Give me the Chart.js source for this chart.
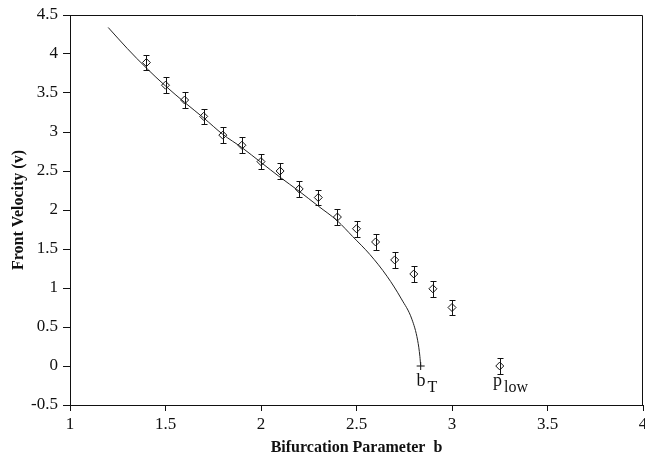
<!DOCTYPE html>
<html>
<head>
<meta charset="utf-8">
<script src="https://cdn.jsdelivr.net/npm/chart.js@4.4.1/dist/chart.umd.min.js"></script>
<style>
  html, body { margin: 0; padding: 0; background: #fff; }
</style>
</head>
<body>
<canvas id="myChart" width="645" height="457"></canvas>
<script>
// measured front velocities with error bars
const bValues = [1.4, 1.5, 1.6, 1.7, 1.8, 1.9, 2.0, 2.1, 2.2, 2.3, 2.4, 2.5, 2.6, 2.7, 2.8, 2.9, 3.0, 3.25];
const vValues = [3.89, 3.6, 3.41, 3.2, 2.96, 2.83, 2.62, 2.5, 2.27, 2.16, 1.91, 1.76, 1.59, 1.36, 1.18, 0.99, 0.75, 0.0];
const vErrors = [0.1, 0.1, 0.1, 0.1, 0.1, 0.1, 0.1, 0.1, 0.1, 0.1, 0.1, 0.1, 0.1, 0.1, 0.1, 0.1, 0.1, 0.1];

// theoretical curve, ending at b_T
const curveB = [1.2, 1.3, 1.4, 1.5, 1.6, 1.7, 1.8, 1.9, 2.0, 2.1, 2.2, 2.3, 2.4, 2.48, 2.57, 2.66, 2.735, 2.79, 2.82, 2.832, 2.836];
const curveV = [4.34, 4.07, 3.82, 3.59, 3.38, 3.18, 2.97, 2.8, 2.61, 2.42, 2.24, 2.05, 1.86, 1.66, 1.43, 1.15, 0.86, 0.6, 0.33, 0.12, 0.0];

const bT = [2.836, 0];
const notes = [
  { x: 2.83, y: -0.25, main: 'b', sub: 'T' },
  { x: 3.23, y: -0.25, main: 'p', sub: 'low' },
];

const serif = '"Liberation Serif", "Times New Roman", serif';

const extras = {
  id: 'extras',
  afterDatasetsDraw(chart) {
    const { ctx, chartArea, scales: { x, y } } = chart;
    ctx.save();
    ctx.strokeStyle = '#111';
    ctx.lineWidth = 1;

    // error bars
    bValues.forEach((b, i) => {
      const px = Math.round(x.getPixelForValue(b)) + 0.5;
      const top = Math.round(y.getPixelForValue(vValues[i] + vErrors[i])) + 0.5;
      const bot = Math.round(y.getPixelForValue(vValues[i] - vErrors[i])) + 0.5;
      ctx.beginPath();
      ctx.moveTo(px, top); ctx.lineTo(px, bot);
      ctx.moveTo(px - 3, top); ctx.lineTo(px + 3, top);
      ctx.moveTo(px - 3, bot); ctx.lineTo(px + 3, bot);
      ctx.stroke();
    });

    // frame top and right
    ctx.beginPath();
    ctx.moveTo(chartArea.left, chartArea.top + 0.5);
    ctx.lineTo(chartArea.right - 0.5, chartArea.top + 0.5);
    ctx.lineTo(chartArea.right - 0.5, chartArea.bottom);
    ctx.stroke();

    // b_T and p_low labels
    ctx.fillStyle = '#111';
    ctx.textBaseline = 'alphabetic';
    notes.forEach(n => {
      const px = x.getPixelForValue(n.x) - 3;
      const py = y.getPixelForValue(n.y);
      ctx.font = '18px ' + serif;
      ctx.fillText(n.main, px, py);
      const w = ctx.measureText(n.main).width;
      ctx.font = '16px ' + serif;
      ctx.fillText(n.sub, px + w + 2, py + 6);
    });
    ctx.restore();
  }
};

const fmt = v => String(+v.toFixed(1));

const ctx = document.getElementById('myChart').getContext('2d');

new Chart(ctx, {
  type: 'scatter',
  data: {
    datasets: [
      {
        label: 'theory',
        data: curveB.map((b, i) => ({ x: b, y: curveV[i] })),
        showLine: true,
        borderColor: '#222',
        borderWidth: 1,
        pointRadius: 0,
        cubicInterpolationMode: 'monotone',
      },
      {
        label: 'bT',
        data: [{ x: bT[0], y: bT[1] }],
        pointStyle: 'cross',
        pointRadius: 4,
        borderColor: '#111',
        borderWidth: 1,
      },
      {
        label: 'measured',
        data: bValues.map((b, i) => ({ x: b, y: vValues[i] })),
        pointStyle: 'rectRot',
        pointRadius: 4,
        borderColor: '#111',
        borderWidth: 1,
        backgroundColor: 'rgba(255,255,255,0)',
      },
    ],
  },
  options: {
    responsive: false,
    animation: false,
    layout: { autoPadding: false, padding: { top: 15, right: 2, bottom: 0, left: 0 } },
    plugins: {
      legend: { display: false },
      tooltip: { enabled: false },
    },
    scales: {
      x: {
        type: 'linear',
        min: 1,
        max: 4,
        ticks: { stepSize: 0.5, color: '#111', padding: 3, callback: fmt, font: { family: serif, size: 17 } },
        grid: { drawOnChartArea: false, tickLength: 6, color: '#111' },
        border: { color: '#111', width: 1 },
        title: {
          display: true,
          text: 'Bifurcation Parameter  b',
          color: '#111',
          padding: { top: 0, bottom: 0 },
          font: { family: serif, size: 16, weight: 'bold' },
        },
        afterFit(scale) {
          scale.height = 52;
          scale.paddingRight = 0;
          scale.paddingLeft = 0;
        },
      },
      y: {
        min: -0.5,
        max: 4.5,
        ticks: { stepSize: 0.5, color: '#111', padding: 5, callback: fmt, font: { family: serif, size: 17 } },
        grid: { drawOnChartArea: false, tickLength: 7, color: '#111' },
        border: { color: '#111', width: 1 },
        title: {
          display: true,
          text: 'Front Velocity (v)',
          color: '#111',
          padding: { top: 9, bottom: 2 },
          font: { family: serif, size: 16, weight: 'bold' },
        },
        afterFit(scale) {
          scale.width = 70;
          scale.paddingTop = 0;
          scale.paddingBottom = 0;
        },
      },
    },
  },
  plugins: [extras],
});
</script>
</body>
</html>
